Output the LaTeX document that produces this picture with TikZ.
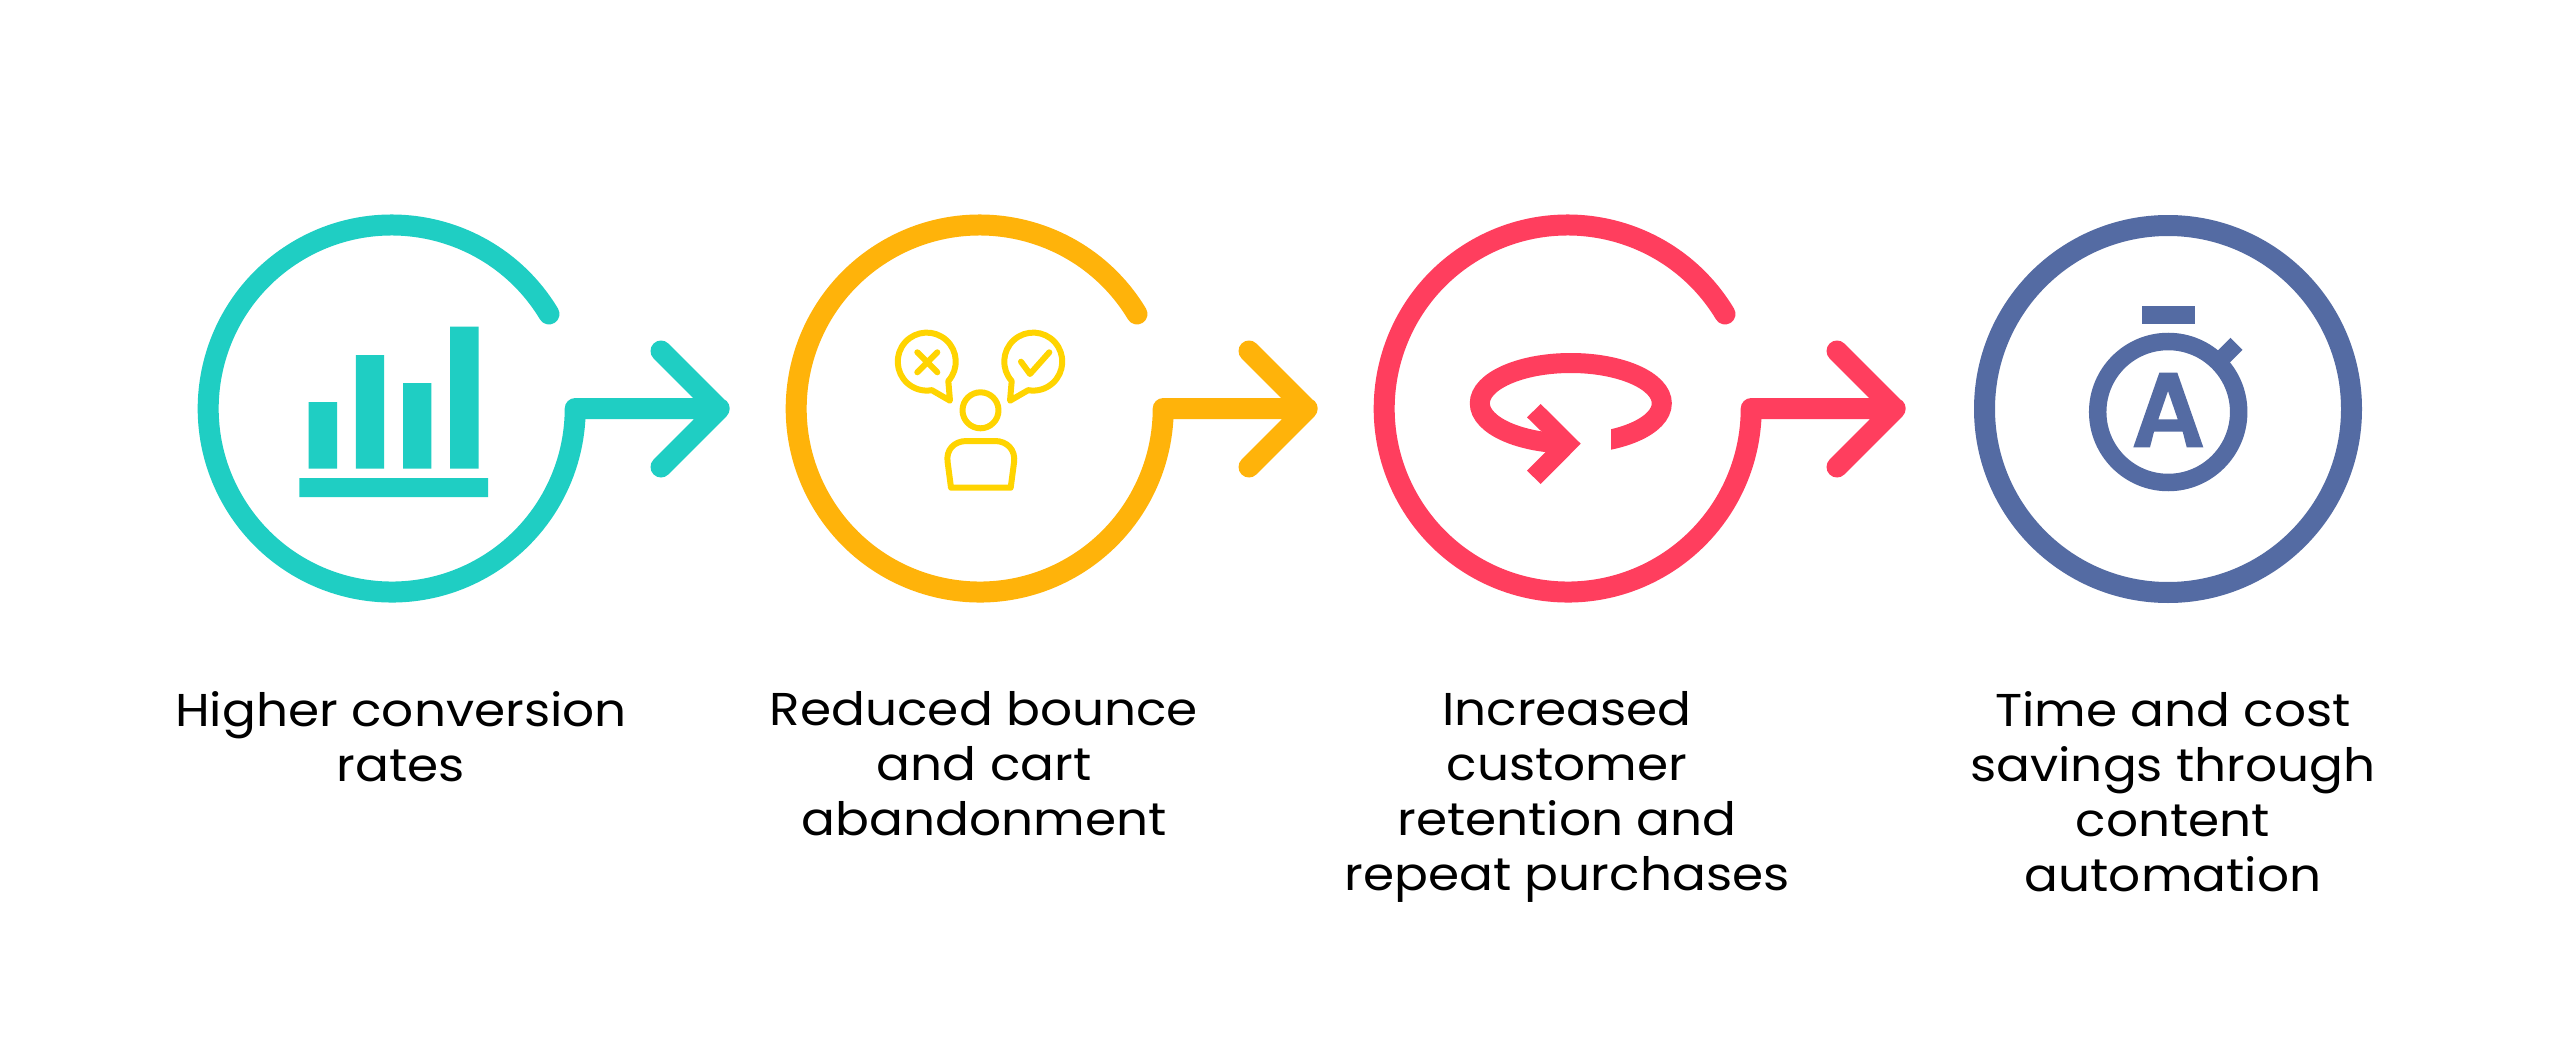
\documentclass[tikz,border=0pt]{standalone}
\usepackage{fontspec}
\setmainfont[FakeStretch=1.09]{Poppins}
\definecolor{cteal}{HTML}{1FCEC3}
\definecolor{corange}{HTML}{FFB30A}
\definecolor{cyellow}{HTML}{FFD400}
\definecolor{cred}{HTML}{FF3E5E}
\definecolor{cblue}{HTML}{546BA3}
\tikzset{
  ring/.style={line width=21pt,line cap=round,line join=round},
  thin icon/.style={draw=cyellow,line width=6pt,line cap=round,line join=round},
  caption/.style={anchor=north,align=center,inner sep=0pt,text=black,font=\fontsize{46}{55}\selectfont},
}
\newcommand{\ringarrow}[2]{%
  \draw[ring,draw=#2] (#1,409) ++(157,-95) arc[start angle=-31,end angle=-360,radius=183.5pt]
     -- ++(144,0) (#1+269,351) -- (#1+327,409) -- (#1+269,467);}
\begin{document}
\begin{tikzpicture}[x=1pt,y=1pt,yscale=-1]
\useasboundingbox (0,0) rectangle (2560,1043);
\fill[white] (0,0) rectangle (2560,1043);
\ringarrow{392}{cteal}
\ringarrow{980}{corange}
\ringarrow{1568}{cred}
\draw[ring,draw=cblue] (2168,409) circle[radius=183.5pt];
% bars
\fill[cteal] (308.6,402) rectangle (337,468.5)
  (355.8,355) rectangle (384,468.5)
  (403,383) rectangle (431.3,468.5)
  (450,326.5) rectangle (478.5,468.5)
  (299.3,478) rectangle (488,497);
% people and bubbles
\draw[thin icon] (948.3,381) arc[start angle=42,end angle=-280,radius=29pt] -- (950,400.7) -- cycle;
\draw[thin icon] (1011.7,381) arc[start angle=138,end angle=460,radius=29pt] -- (1010,400.7) -- cycle;
\draw[thin icon] (917.3,352.3) -- (937.3,372.3) (937.3,352.3) -- (917.3,372.3);
\draw[thin icon] (1021,361.7) -- (1030,374) -- (1049.3,352.3);
\draw[thin icon] (980.5,410.3) circle[radius=18pt];
\draw[thin icon] (951,487.7) -- (1010.7,487.7) -- (1014,462.7)
  .. controls (1016,450) and (1007,441) .. (995,441) -- (966.7,441)
  .. controls (954,441) and (945.5,450) .. (947.7,462.7) -- cycle;
% retention
\begin{scope}
\clip (1460,340) -- (1680,340) -- (1680,470) -- (1611,470) -- (1611,420) -- (1565,420) -- (1565,470) -- (1460,470) -- cycle;
\draw[cred,line width=20pt] (1570.8,403.3) ellipse[x radius=91pt,y radius=40.3pt];
\end{scope}
\fill[cred] (1580.7,443.7) -- (1540.7,484) -- (1527,470.7) -- (1554,443.7) -- (1527,417.3) -- (1540.7,404) -- cycle;
% stopwatch
\fill[cblue] (2141.7,306) rectangle (2194.7,324);
\draw[cblue,line width=17.5pt] (2168.2,412) circle[radius=70.5pt];
\draw[cblue,line width=17pt] (2214.2,366) -- (2236.5,343.8);
\fill[cblue,even odd rule] (2133.3,447.3) -- (2159.3,372.7) -- (2177.3,372.7) -- (2203.3,447.3) -- (2186.7,447.3) -- (2182.7,431.7) -- (2154,431.7) -- (2150,447.3) -- cycle
  (2158.3,419.3) -- (2177.7,419.3) -- (2168,391) -- cycle;
% captions
\node[caption] (t1) at (401,691) {Higher conversion\\rates};
\node[caption] (t2) at (984,691) {Reduced bounce\\and cart\\abandonment};
\node[caption] (t3) at (1567,691) {Increased\\customer\\retention and\\repeat purchases};
\node[caption] (t4) at (2173,691) {Time and cost\\savings through\\content\\automation};
\end{tikzpicture}
\end{document}
